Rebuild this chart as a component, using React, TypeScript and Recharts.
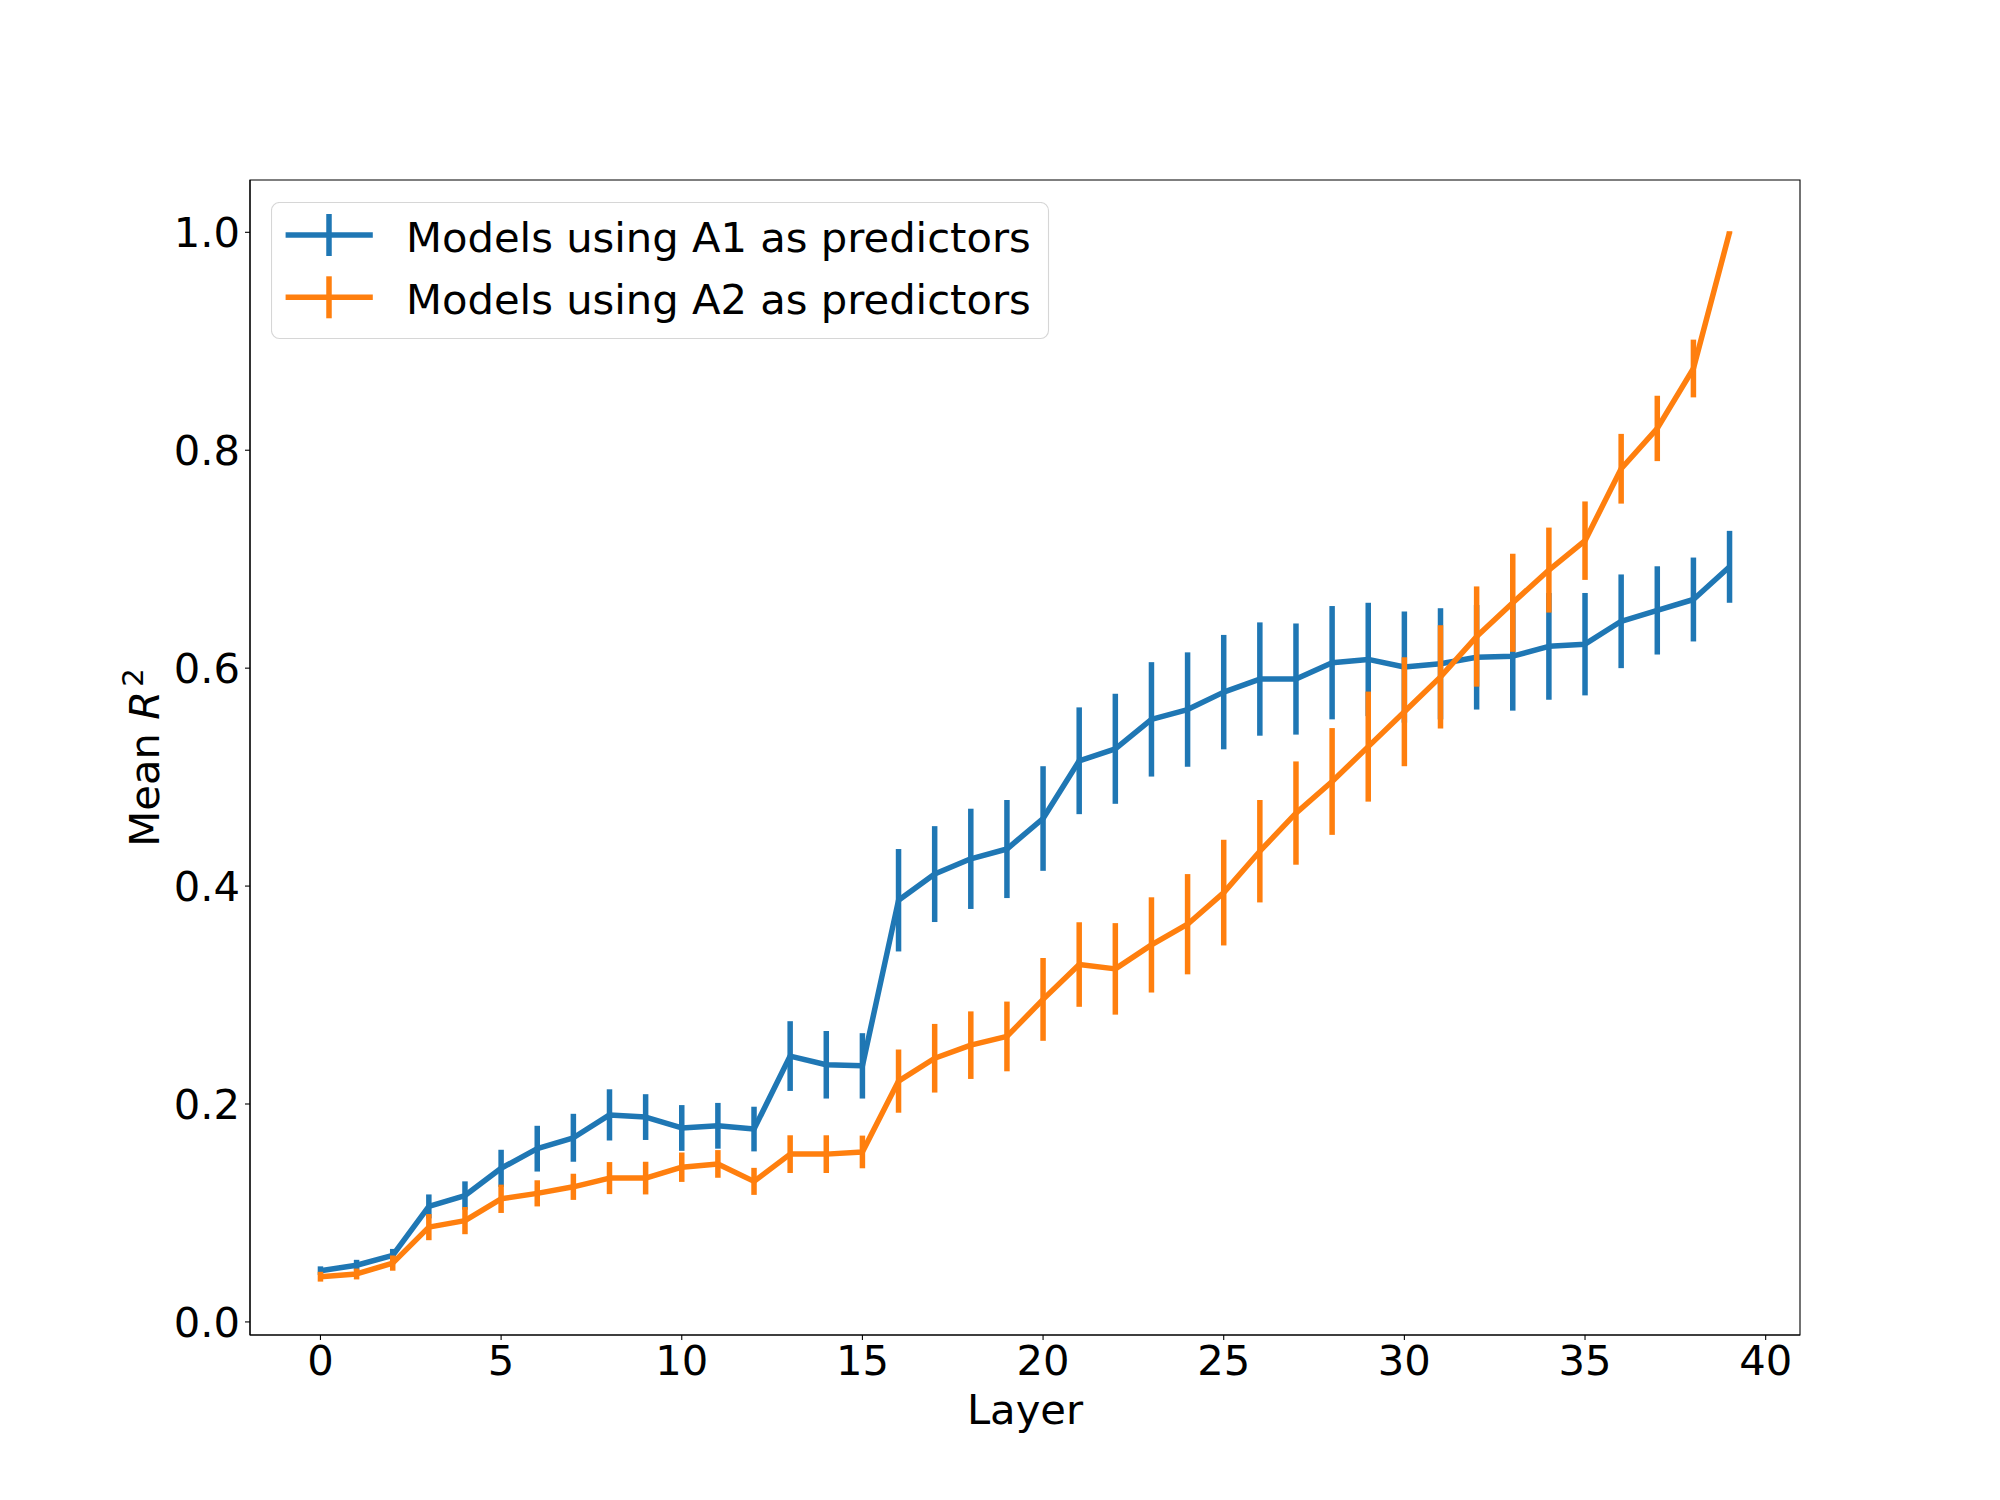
import React from "react"
import { LineChart, Line, XAxis, YAxis, ErrorBar, ReferenceArea } from "recharts"

const layers = [
  0, 1, 2, 3, 4, 5, 6, 7, 8, 9, 10, 11, 12, 13, 14, 15, 16, 17, 18, 19,
  20, 21, 22, 23, 24, 25, 26, 27, 28, 29, 30, 31, 32, 33, 34, 35, 36, 37, 38, 39,
]

const a1Mean = [
  0.047, 0.052, 0.061, 0.106, 0.116, 0.141, 0.159, 0.169, 0.19, 0.188,
  0.178, 0.18, 0.177, 0.244, 0.236, 0.235, 0.387, 0.411, 0.425, 0.434,
  0.462, 0.515, 0.526, 0.553, 0.562, 0.578, 0.59, 0.59, 0.605, 0.608,
  0.601, 0.604, 0.61, 0.611, 0.62, 0.622, 0.643, 0.653, 0.663, 0.693,
]

const a1Err = [
  0.004, 0.005, 0.006, 0.011, 0.013, 0.017, 0.021, 0.022, 0.0235, 0.021,
  0.021, 0.021, 0.0205, 0.032, 0.031, 0.03, 0.047, 0.044, 0.046, 0.045,
  0.048, 0.049, 0.0505, 0.0525, 0.0525, 0.0525, 0.052, 0.051, 0.052, 0.052,
  0.051, 0.051, 0.048, 0.05, 0.049, 0.047, 0.043, 0.0405, 0.0385, 0.033,
]

const a2Mean = [
  0.0415, 0.044, 0.054, 0.087, 0.093, 0.113, 0.118, 0.124, 0.132, 0.132,
  0.142, 0.145, 0.129, 0.154, 0.154, 0.156, 0.221, 0.242, 0.254, 0.262,
  0.296, 0.328, 0.324, 0.346, 0.365, 0.394, 0.432, 0.467, 0.496, 0.528,
  0.56, 0.592, 0.629, 0.66, 0.69, 0.717, 0.783, 0.82, 0.875, 1.0,
]

const a2Err = [
  0.0045, 0.005, 0.007, 0.012, 0.0125, 0.013, 0.012, 0.012, 0.0147, 0.015,
  0.0135, 0.0127, 0.0124, 0.0173, 0.0173, 0.015, 0.029, 0.0315, 0.031, 0.032,
  0.038, 0.0388, 0.042, 0.0437, 0.046, 0.0485, 0.047, 0.0474, 0.049, 0.0505,
  0.05, 0.0474, 0.046, 0.045, 0.039, 0.036, 0.032, 0.03, 0.0265, 0.001,
]

const xTicks = [0, 5, 10, 15, 20, 25, 30, 35, 40]
const yTicks = [0, 0.2, 0.4, 0.6, 0.8, 1.0]
const seriesNames = ["Models using A1 as predictors", "Models using A2 as predictors"]

const BLUE = "#1f77b4"
const ORANGE = "#ff7f0e"
const FONT = "DejaVu Sans"
const FS = 41.7
const LW = 5.5

const X_DOMAIN = [-1.95, 40.95]
const Y_DOMAIN = [-0.012, 1.048]

const data = layers.map((layer, i) => ({
  layer,
  a1: a1Mean[i],
  a1Err: a1Err[i],
  a2: a2Mean[i],
  a2Err: a2Err[i],
}))

function YLabel(props: any) {
  const vb = props.viewBox
  const x = vb.x + 159
  const y = vb.y + vb.height / 2
  return (
    <text
      x={x}
      y={y}
      transform={`rotate(-90, ${x}, ${y})`}
      textAnchor="middle"
      fontFamily={FONT}
      fontSize={FS}
      fill="#000"
    >
      Mean{" "}
      <tspan fontStyle="italic">R</tspan>
      <tspan dx={4} dy={-16} fontSize={29}>2</tspan>
    </text>
  )
}

function XLabel(props: any) {
  const vb = props.viewBox
  return (
    <text
      x={vb.x + vb.width / 2}
      y={vb.y + 89}
      textAnchor="middle"
      fontFamily={FONT}
      fontSize={FS}
      fill="#000"
    >
      Layer
    </text>
  )
}

function LegendBox() {
  const colors = [BLUE, ORANGE]
  const rows = [33, 95.3]
  return (
    <svg
      width={780}
      height={140}
      style={{ position: "absolute", left: 271, top: 202 }}
    >
      <rect
        x={0.5}
        y={0.5}
        width={777}
        height={136}
        rx={8}
        ry={8}
        fill="#fff"
        fillOpacity={0.8}
        stroke="#d6d6d6"
        strokeWidth={1.1}
      />
      {seriesNames.map((name, i) => (
        <g key={name}>
          <line x1={14.6} x2={101.8} y1={rows[i]} y2={rows[i]} stroke={colors[i]} strokeWidth={LW} />
          <line x1={58} x2={58} y1={rows[i] - 21} y2={rows[i] + 21} stroke={colors[i]} strokeWidth={LW} />
          <text x={135} y={rows[i] + 16.7} fontFamily={FONT} fontSize={FS} fill="#000">
            {name}
          </text>
        </g>
      ))}
    </svg>
  )
}

export default function App() {
  const tickStyle = { fill: "#000", fontSize: FS, fontFamily: FONT }
  return (
    <div style={{ position: "absolute", left: 0, top: 0, width: 2000, height: 1500, background: "#fff" }}>
      <LineChart
        width={2000}
        height={1500}
        data={data}
        margin={{ top: 180, right: 200, bottom: 0, left: 0 }}
      >
        <XAxis
          dataKey="layer"
          type="number"
          domain={X_DOMAIN}
          ticks={xTicks}
          allowDataOverflow
          height={165}
          tick={tickStyle}
          tickSize={5}
          tickMargin={5}
          axisLine={{ stroke: "#000", strokeWidth: 1.1 }}
          tickLine={{ stroke: "#000", strokeWidth: 1.1 }}
          label={<XLabel />}
        />
        <YAxis
          type="number"
          domain={Y_DOMAIN}
          ticks={yTicks}
          allowDataOverflow
          width={250}
          tick={tickStyle}
          tickSize={5}
          tickMargin={5}
          tickFormatter={(v: number) => v.toFixed(1)}
          axisLine={{ stroke: "#000", strokeWidth: 1.1 }}
          tickLine={{ stroke: "#000", strokeWidth: 1.1 }}
          label={<YLabel />}
        />
        <Line
          dataKey="a1"
          stroke={BLUE}
          strokeWidth={LW}
          strokeLinejoin="round"
          dot={false}
          activeDot={false}
          isAnimationActive={false}
        >
          <ErrorBar dataKey="a1Err" direction="y" width={0} stroke={BLUE} strokeWidth={LW} isAnimationActive={false} />
        </Line>
        <Line
          dataKey="a2"
          stroke={ORANGE}
          strokeWidth={LW}
          strokeLinejoin="round"
          dot={false}
          activeDot={false}
          isAnimationActive={false}
        >
          <ErrorBar dataKey="a2Err" direction="y" width={0} stroke={ORANGE} strokeWidth={LW} isAnimationActive={false} />
        </Line>
        <ReferenceArea
          x1={X_DOMAIN[0]}
          x2={X_DOMAIN[1]}
          y1={Y_DOMAIN[0]}
          y2={Y_DOMAIN[1]}
          fill="none"
          stroke="#000"
          strokeWidth={1.1}
          ifOverflow="visible"
        />
      </LineChart>
      <LegendBox />
    </div>
  )
}
